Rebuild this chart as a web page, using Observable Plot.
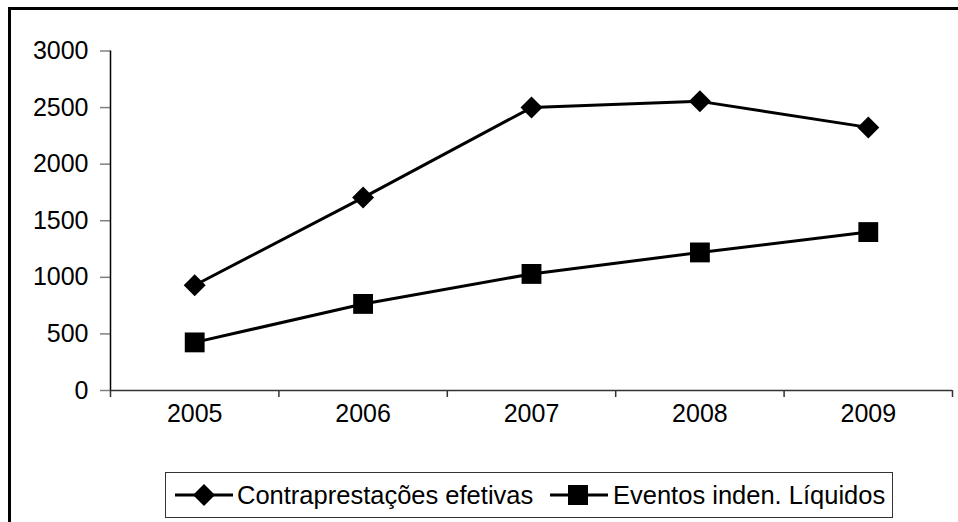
<!DOCTYPE html>
<html><head><meta charset="utf-8">
<script src="https://cdn.jsdelivr.net/npm/d3@7"></script>
<script src="https://cdn.jsdelivr.net/npm/@observablehq/plot@0.6"></script>
<style>
body{margin:0;background:#fff;font-family:"Liberation Sans",Arial,sans-serif;}
#wrap{position:relative;width:958px;height:522px;overflow:hidden;background:#fff;}
#frame{position:absolute;left:8px;top:7px;width:1000px;height:600px;border-left:3px solid #000;border-top:3px solid #000;}
#chart{position:absolute;left:0;top:0;}
#legend{position:absolute;left:165px;top:472px;width:728px;height:46px;border:1px solid #333;box-sizing:border-box;font-size:25.5px;background:#fff;}
#legend .sw{position:absolute;top:11px;}
#legend .tx{position:absolute;top:7px;white-space:nowrap;line-height:30px;color:#000;}
</style></head>
<body><div id="wrap"><div id="frame"></div><div id="chart"></div><div id="legend"></div></div>
<script>
const years = [2005, 2006, 2007, 2008, 2009];
const contraprestacoes = [930, 1705, 2500, 2555, 2325];
const eventos = [425, 765, 1030, 1220, 1400];
const seriesNames = ["Contraprestações efetivas", "Eventos inden. Líquidos"];
const yTicks = [0, 500, 1000, 1500, 2000, 2500, 3000];

const rowsC = years.map((y, i) => ({year: y, value: contraprestacoes[i]}));
const rowsE = years.map((y, i) => ({year: y, value: eventos[i]}));
const bounds = [years[0] - 0.5, ...years.map(y => y + 0.5)];

const chart = Plot.plot({
  width: 958,
  height: 430,
  marginLeft: 110,
  marginRight: 6,
  marginTop: 50.5,
  marginBottom: 40,
  style: {fontFamily: "Liberation Sans, Arial, sans-serif", fontSize: "25px", color: "#000", background: "transparent", overflow: "visible"},
  x: {type: "linear", domain: [bounds[0], bounds[bounds.length - 1]], label: null},
  y: {domain: [0, 3000], label: null},
  marks: [
    Plot.axisY({ticks: yTicks, tickSize: 10, tickPadding: 12, tickFormat: d => String(d), stroke: "#808080", fill: "#000", label: null, strokeWidth: 1.5}),
    Plot.axisX({ticks: bounds, tickSize: 7, tickFormat: () => "", stroke: "#333", label: null, strokeWidth: 1.5}),
    Plot.axisX({ticks: years, tickSize: 0, tickPadding: 14, tickFormat: d => String(d), fill: "#000", label: null}),
    Plot.ruleX([bounds[0]], {y1: 0, y2: 3000, stroke: "#000", strokeWidth: 1.5}),
    Plot.ruleY([0], {x1: bounds[0], x2: bounds[bounds.length - 1], stroke: "#333", strokeWidth: 1.5}),
    Plot.line(rowsC, {x: "year", y: "value", stroke: "#000", strokeWidth: 3}),
    Plot.line(rowsE, {x: "year", y: "value", stroke: "#000", strokeWidth: 3}),
    Plot.dot(rowsC, {x: "year", y: "value", symbol: "diamond2", r: 9.9, fill: "#000", stroke: "none"}),
    Plot.dot(rowsE, {x: "year", y: "value", symbol: "square", r: 11.2, fill: "#000", stroke: "none"})
  ]
});
document.getElementById("chart").appendChild(chart);

const legend = document.getElementById("legend");
const swatch = (shape) => {
  const s = shape === "diamond"
    ? `<path d="M29,-1 L40,10 L29,21 L18,10 Z" fill="#000"/>`
    : `<rect x="18" y="0" width="20" height="20" fill="#000"/>`;
  return `<svg width="60" height="22" viewBox="0 0 60 22" overflow="visible"><line x1="0" y1="10" x2="58" y2="10" stroke="#000" stroke-width="3"/>${s}</svg>`;
};
legend.innerHTML =
  `<div class="sw" style="left:9px">${swatch("diamond")}</div>` +
  `<div class="tx" style="left:71px">${seriesNames[0]}</div>` +
  `<div class="sw" style="left:384px">${swatch("square")}</div>` +
  `<div class="tx" style="left:447px">${seriesNames[1]}</div>`;
</script>
</body></html>
